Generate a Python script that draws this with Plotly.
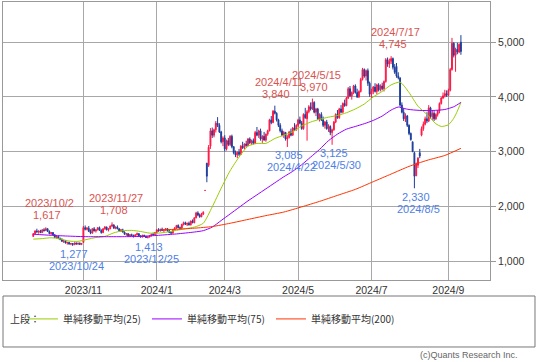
import pandas as pd
import plotly.graph_objects as go

# ---------------- data ----------------
market_holidays = ["2023-10-09", "2023-11-03", "2023-11-23", "2024-01-01", "2024-01-02",
                   "2024-01-03", "2024-01-08", "2024-02-12", "2024-02-23", "2024-03-20",
                   "2024-04-29", "2024-05-03", "2024-05-06", "2024-07-15", "2024-08-12"]
dates = [d.strftime("%Y-%m-%d") for d in pd.bdate_range("2023-09-21", "2024-09-11")
         if d.strftime("%Y-%m-%d") not in market_holidays]

open_ = [1450, 1500, 1550, 1530, 1545, 1520, 1570, 1560, 1590, 1540,
         1500, 1520, 1480, 1430, 1450, 1410, 1400, 1360, 1370, 1330,
         1340, 1310, 1320, 1300, 1330, 1310, 1325, 1305, 1340, 1610,
         1580, 1600, 1540, 1510, 1590, 1550, 1570, 1610, 1560, 1520,
         1590, 1620, 1570, 1590, 1640, 1660, 1600, 1620, 1590, 1550,
         1570, 1530, 1490, 1500, 1460, 1480, 1470, 1450, 1480, 1500,
         1460, 1440, 1470, 1450, 1430, 1440, 1460, 1490, 1480, 1520,
         1570, 1550, 1580, 1560, 1570, 1590, 1550, 1520, 1510, 1570,
         1600, 1650, 1610, 1600, 1670, 1700, 1670, 1690, 1660, 1730,
         1700, 1790, 1880, 1840, 1810, 1860, 2290, 2790, 2750, 3100,
         3380, 3300, 3400, 3520, 3480, 3360, 3180, 3250, 3050, 3200,
         3130, 3280, 3090, 2980, 2940, 2990, 2950, 3100, 3070, 3140,
         3110, 3230, 3160, 3200, 3150, 3350, 3300, 3380, 3230, 3280,
         3210, 3320, 3380, 3580, 3530, 3740, 3700, 3580, 3480, 3380,
         3300, 3350, 3230, 3260, 3360, 3300, 3430, 3400, 3480, 3580,
         3520, 3420, 3680, 3600, 3730, 3820, 3780, 3900, 3720, 3780,
         3600, 3680, 3580, 3480, 3540, 3420, 3460, 3350, 3400, 3540,
         3680, 3620, 3780, 3720, 3880, 3840, 3980, 4150, 4020, 4080,
         4200, 4080, 4000, 4100, 4320, 4500, 4380, 4480, 4250, 4050,
         4100, 4180, 4100, 4220, 4130, 4200, 4150, 4280, 4680, 4600,
         4650, 4700, 4540, 4560, 4380, 4350, 3850, 3720, 3600, 3650,
         3480, 3330, 3180, 2980, 2560, 2750, 2980, 3300, 3420, 3500,
         3600, 3560, 3800, 3640, 3700, 3600, 3680, 3740, 3880, 3980,
         4020, 4060, 4030, 4120, 4500, 4980, 4760, 4870, 4820, 5000]
high = [1510, 1560, 1590, 1560, 1570, 1580, 1600, 1617, 1600, 1560,
        1530, 1530, 1490, 1460, 1460, 1430, 1410, 1380, 1380, 1350,
        1350, 1330, 1330, 1340, 1340, 1335, 1340, 1330, 1640, 1650,
        1620, 1640, 1580, 1600, 1620, 1580, 1620, 1630, 1580, 1600,
        1640, 1630, 1600, 1650, 1708, 1670, 1630, 1650, 1600, 1580,
        1590, 1540, 1510, 1510, 1490, 1500, 1480, 1490, 1520, 1510,
        1470, 1480, 1480, 1460, 1450, 1470, 1500, 1520, 1530, 1580,
        1600, 1590, 1610, 1580, 1600, 1600, 1570, 1540, 1580, 1620,
        1660, 1670, 1630, 1680, 1720, 1720, 1700, 1720, 1740, 1760,
        1800, 1900, 1910, 1870, 1880, 1910, 2290, 2790, 3120, 3430,
        3440, 3420, 3560, 3630, 3520, 3380, 3280, 3300, 3220, 3250,
        3300, 3310, 3100, 3020, 3000, 3050, 3120, 3180, 3150, 3200,
        3250, 3260, 3220, 3240, 3380, 3450, 3400, 3420, 3300, 3360,
        3330, 3400, 3600, 3650, 3760, 3840, 3720, 3600, 3520, 3420,
        3380, 3360, 3300, 3380, 3420, 3450, 3520, 3500, 3600, 3640,
        3560, 3700, 3800, 3760, 3850, 3900, 3970, 3920, 3800, 3800,
        3700, 3720, 3640, 3560, 3580, 3500, 3480, 3420, 3560, 3700,
        3760, 3800, 3850, 3900, 3950, 4000, 4180, 4200, 4100, 4220,
        4230, 4150, 4120, 4350, 4530, 4520, 4500, 4520, 4280, 4150,
        4200, 4250, 4240, 4250, 4230, 4260, 4300, 4710, 4720, 4700,
        4745, 4720, 4600, 4620, 4450, 4350, 3900, 3800, 3700, 3670,
        3500, 3350, 3180, 3000, 2800, 2900, 3050, 3460, 3550, 3640,
        3720, 3850, 3820, 3760, 3740, 3700, 3760, 3900, 4000, 4080,
        4130, 4120, 4150, 4530, 5080, 5000, 4900, 4990, 4980, 5130]
low = [1440, 1490, 1520, 1500, 1510, 1515, 1540, 1550, 1530, 1490,
       1480, 1470, 1420, 1410, 1400, 1380, 1350, 1330, 1320, 1300,
       1300, 1290, 1277, 1290, 1300, 1295, 1300, 1290, 1330, 1560,
       1560, 1530, 1490, 1500, 1540, 1520, 1560, 1550, 1500, 1510,
       1570, 1560, 1540, 1580, 1620, 1590, 1580, 1580, 1540, 1530,
       1520, 1480, 1460, 1450, 1440, 1450, 1430, 1440, 1470, 1450,
       1430, 1430, 1440, 1420, 1413, 1430, 1450, 1470, 1470, 1510,
       1540, 1540, 1550, 1530, 1550, 1540, 1510, 1500, 1500, 1560,
       1590, 1600, 1580, 1590, 1650, 1660, 1640, 1650, 1650, 1690,
       1690, 1780, 1820, 1790, 1800, 1840, 2290, 2440, 2720, 3050,
       3250, 3260, 3350, 3450, 3340, 3150, 3100, 3000, 3020, 3100,
       3100, 3060, 2950, 2900, 2880, 2920, 2940, 3050, 3040, 3090,
       3100, 3140, 3120, 3130, 3140, 3280, 3250, 3200, 3160, 3200,
       3180, 3290, 3370, 3500, 3520, 3680, 3550, 3450, 3350, 3280,
       3250, 3200, 3085, 3240, 3280, 3290, 3380, 3380, 3450, 3500,
       3400, 3400, 3600, 3200, 3700, 3750, 3760, 3700, 3650, 3580,
       3550, 3560, 3450, 3420, 3400, 3360, 3300, 3125, 3380, 3520,
       3600, 3600, 3700, 3700, 3820, 3830, 3960, 4000, 3950, 4050,
       4060, 3980, 3980, 4080, 4300, 4350, 4300, 4200, 4000, 3980,
       4050, 4080, 4050, 4100, 4100, 4120, 4100, 4260, 4550, 4530,
       4600, 4500, 4420, 4350, 4320, 3820, 3700, 3560, 3540, 3450,
       3300, 3200, 2990, 2330, 2550, 2700, 2880, 3280, 3380, 3480,
       3520, 3540, 3600, 3580, 3560, 3580, 3640, 3700, 3860, 3960,
       3990, 4000, 4010, 4100, 4480, 4720, 4460, 4780, 4800, 4770]
close = [1500, 1550, 1530, 1545, 1520, 1570, 1555, 1590, 1540, 1500,
         1520, 1480, 1430, 1450, 1410, 1400, 1360, 1370, 1330, 1340,
         1310, 1320, 1300, 1330, 1310, 1325, 1305, 1320, 1610, 1580,
         1600, 1540, 1510, 1590, 1550, 1570, 1610, 1560, 1520, 1590,
         1620, 1570, 1590, 1640, 1660, 1600, 1620, 1590, 1550, 1570,
         1530, 1490, 1500, 1460, 1480, 1470, 1450, 1480, 1500, 1460,
         1440, 1470, 1450, 1430, 1440, 1460, 1490, 1480, 1520, 1570,
         1550, 1580, 1560, 1570, 1590, 1550, 1520, 1510, 1570, 1600,
         1650, 1610, 1600, 1670, 1700, 1670, 1690, 1660, 1730, 1700,
         1790, 1880, 1840, 1810, 1860, 1890, 2290, 2550, 3080, 3380,
         3300, 3400, 3520, 3480, 3360, 3180, 3250, 3050, 3200, 3130,
         3280, 3090, 2980, 2940, 2990, 2950, 3100, 3070, 3140, 3110,
         3230, 3160, 3200, 3150, 3350, 3300, 3380, 3230, 3280, 3210,
         3320, 3380, 3580, 3530, 3740, 3700, 3580, 3480, 3380, 3300,
         3350, 3230, 3260, 3360, 3300, 3430, 3400, 3480, 3580, 3520,
         3420, 3680, 3620, 3730, 3820, 3780, 3900, 3720, 3780, 3600,
         3680, 3580, 3480, 3540, 3420, 3460, 3350, 3400, 3540, 3680,
         3620, 3780, 3720, 3880, 3840, 3980, 4150, 4020, 4080, 4200,
         4080, 4000, 4100, 4320, 4500, 4380, 4480, 4250, 4050, 4100,
         4180, 4100, 4220, 4130, 4200, 4150, 4280, 4680, 4600, 4650,
         4700, 4540, 4450, 4380, 4350, 3850, 3720, 3600, 3650, 3480,
         3330, 3220, 3000, 2550, 2780, 2880, 2920, 3420, 3500, 3600,
         3560, 3800, 3640, 3700, 3600, 3680, 3740, 3880, 3980, 4020,
         4060, 4030, 4120, 4500, 4980, 4760, 4870, 4820, 4960, 4830]

# moving averages (trading-day index, value)
ma25_idx = [0, 5, 10, 15, 20, 25, 30, 35, 40, 45, 50, 55, 60, 65, 70, 75, 80, 85, 90, 95,
            100, 105, 110, 115, 120, 125, 130, 135, 140, 145, 150, 155, 160, 165, 170, 175,
            180, 185, 190, 195, 200, 205, 210, 215, 220, 225, 228, 232, 235, 237, 239]
ma25_val = [1400, 1410, 1425, 1405, 1365, 1360, 1395, 1430, 1450, 1515, 1555, 1560, 1540,
            1510, 1510, 1530, 1560, 1590, 1620, 1690, 1990, 2330, 2650, 2900, 3100, 3150,
            3150, 3240, 3300, 3360, 3470, 3540, 3590, 3630, 3660, 3710, 3780, 3870, 4000,
            4100, 4220, 4270, 4080, 3830, 3680, 3510, 3460, 3490, 3610, 3740, 3900]
ma75_idx = [0, 10, 20, 30, 40, 50, 60, 70, 80, 90, 95, 100, 105, 110, 115, 120, 125, 130,
            135, 140, 145, 150, 155, 160, 165, 170, 175, 180, 185, 190, 195, 200, 204, 207,
            210, 215, 220, 225, 230, 235, 239]
ma75_val = [1490, 1470, 1455, 1445, 1445, 1445, 1450, 1470, 1495, 1530, 1555, 1620, 1740,
            1860, 1980, 2100, 2210, 2320, 2430, 2540, 2640, 2760, 2900, 3040, 3200, 3320,
            3410, 3460, 3510, 3570, 3650, 3760, 3815, 3790, 3770, 3755, 3750, 3755, 3770,
            3820, 3900]
ma200_idx = [72, 80, 90, 100, 110, 120, 130, 140, 150, 160, 170, 180, 190, 200, 210, 220,
             230, 239]
ma200_val = [1570, 1580, 1600, 1630, 1690, 1760, 1830, 1895, 1990, 2090, 2200, 2310, 2450,
             2590, 2730, 2840, 2930, 3060]

high_marks = ["2023-10-02", "2023-11-27", "2024-04-11", "2024-05-15", "2024-07-17"]
low_marks = ["2023-10-24", "2023-12-25", "2024-04-22", "2024-05-30", "2024-08-05"]

month_ticks = ["2023-11-01", "2024-01-04", "2024-03-01", "2024-05-01", "2024-07-01", "2024-09-02"]
month_labels = ["2023/11", "2024/1", "2024/3", "2024/5", "2024/7", "2024/9"]
price_ticks = [1000, 2000, 3000, 4000, 5000]

# ---------------- figure ----------------
UP, DN = "#ff1744", "#1c3d9c"
C25, C75, C200 = "#99cc00", "#9900ff", "#ff3300"
RED_TXT, BLUE_TXT = "#d9534f", "#4f7fe6"
JP = "Noto Sans CJK JP"

fig = go.Figure()
fig.add_trace(go.Candlestick(
    x=dates, open=open_, high=high, low=low, close=close,
    increasing=dict(line=dict(color=UP, width=1), fillcolor=UP),
    decreasing=dict(line=dict(color=DN, width=1), fillcolor=DN),
    whiskerwidth=0, showlegend=False, hoverinfo="skip"))

for idx, val, col, nm in [(ma25_idx, ma25_val, C25, "単純移動平均(25)"),
                          (ma75_idx, ma75_val, C75, "単純移動平均(75)"),
                          (ma200_idx, ma200_val, C200, "単純移動平均(200)")]:
    fig.add_trace(go.Scatter(x=[dates[i] for i in idx], y=val, mode="lines", name=nm,
                             line=dict(color=col, width=1, shape="spline", smoothing=0.6),
                             hoverinfo="skip"))

annots = []
for d in high_marks:
    i = dates.index(d)
    ts = pd.Timestamp(d)
    annots.append(dict(x=d, y=high[i], text=f"{high[i]:,}", yshift=12, xshift=1.5,
                       showarrow=False, font=dict(color=RED_TXT, size=11)))
    annots.append(dict(x=d, y=high[i], text=f"{ts.year}/{ts.month}/{ts.day}", yshift=24,
                       xshift=4, showarrow=False, font=dict(color=RED_TXT, size=11)))
for d in low_marks:
    i = dates.index(d)
    ts = pd.Timestamp(d)
    annots.append(dict(x=d, y=low[i], text=f"{low[i]:,}", yshift=-8.5, xshift=1.5,
                       showarrow=False, font=dict(color=BLUE_TXT, size=11)))
    annots.append(dict(x=d, y=low[i], text=f"{ts.year}/{ts.month}/{ts.day}", yshift=-20.5,
                       xshift=4, showarrow=False, font=dict(color=BLUE_TXT, size=11)))
annots.append(dict(xref="paper", yref="paper", x=0.0103, y=-0.140, xanchor="left",
                   yanchor="middle", text="上段：", showarrow=False,
                   font=dict(family=JP, size=10, color="#333333")))
annots.append(dict(xref="paper", yref="paper", x=1.0616, y=-0.268, xanchor="right",
                   yanchor="middle", text="(c)Quants Research Inc.", showarrow=False,
                   font=dict(size=9, color="#666666")))

fig.update_layout(
    template="none",
    width=537, height=362, margin=dict(l=3, r=47, t=2, b=82, autoexpand=False),
    paper_bgcolor="white", plot_bgcolor="white",
    font=dict(family="Liberation Sans, Arial, sans-serif", size=11, color="#333333"),
    annotations=annots,
    showlegend=True,
    legend=dict(orientation="h", x=0.041, xanchor="left", y=-0.14, yanchor="middle",
                font=dict(family=JP, size=10, color="#333333"),
                bgcolor="rgba(0,0,0,0)", borderwidth=0,
                entrywidth=79, entrywidthmode="pixels"),
    shapes=[dict(type="rect", xref="paper", yref="paper", x0=0, x1=1.0924,
                 y0=-0.241, y1=-0.0576, line=dict(color="#777777", width=1))],
)
fig.update_xaxes(type="category", range=[-16.93, 255.25], tickmode="array",
                 tickvals=month_ticks, ticktext=month_labels, showgrid=True,
                 gridcolor="#a8a8a8", gridwidth=1, showline=True, linecolor="#999999",
                 mirror=True, ticks="", rangeslider=dict(visible=False), automargin=False,
                 tickfont=dict(size=10.5, color="#333333"))
fig.update_yaxes(side="right", range=[653, 5735], tickmode="array", tickvals=price_ticks,
                 ticktext=[f"{v:,}" for v in price_ticks], showgrid=True,
                 gridcolor="#a8a8a8", gridwidth=1, showline=True, linecolor="#999999",
                 mirror=True, ticks="outside", ticklen=5, tickcolor="#999999",
                 zeroline=False, automargin=False, tickfont=dict(size=10.5, color="#333333"))

fig.write_html("out.html", config={"displayModeBar": False},
               post_script="document.body.style.margin='0';")
